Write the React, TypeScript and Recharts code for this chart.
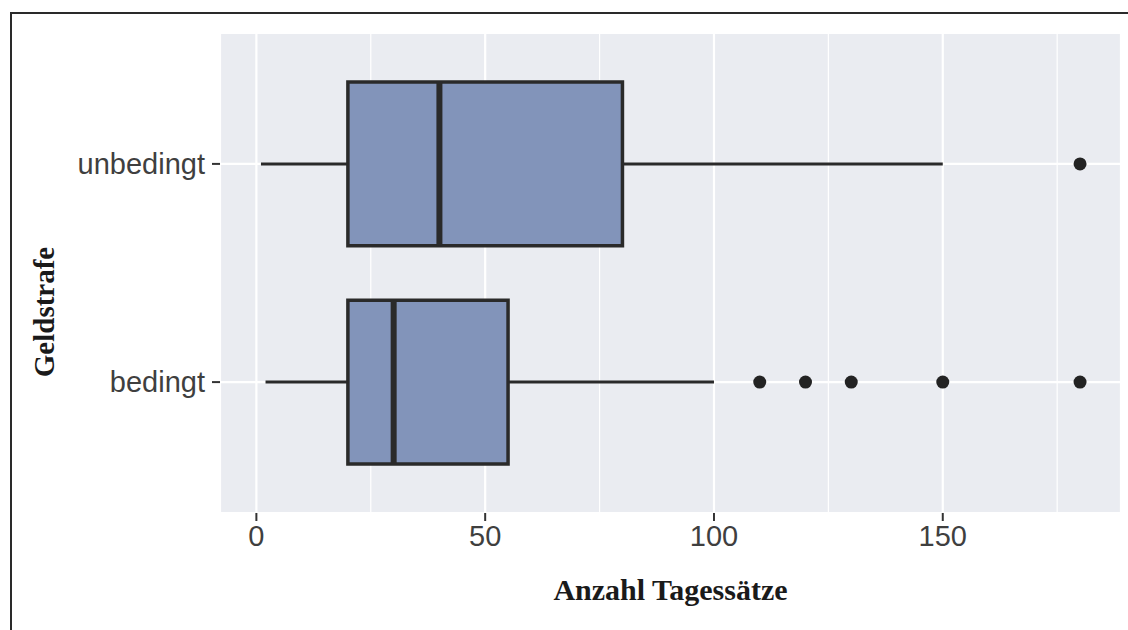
import React from 'react';
import {
  ComposedChart,
  XAxis,
  YAxis,
  CartesianGrid,
  ReferenceArea,
  ReferenceLine,
  Scatter,
  Label,
} from 'recharts';

// ---- data ----
const categories = ['bedingt', 'unbedingt'];
const categoryPos = [1, 2];
const whiskerLow = [2, 1];
const q1 = [20, 20];
const median = [30, 40];
const q3 = [55, 80];
const whiskerHigh = [100, 150];
const outliersBedingt = [110, 120, 130, 150, 180];
const outliersUnbedingt = [180];
const xTicks = [0, 50, 100, 150];
const xMinorTicks = [25, 75, 125, 175];
const yTicks = [1, 2];

const outlierData = [
  ...outliersBedingt.map((v) => ({ x: v, y: categoryPos[0] })),
  ...outliersUnbedingt.map((v) => ({ x: v, y: categoryPos[1] })),
];

const allValues = [...whiskerLow, ...whiskerHigh, ...outliersBedingt, ...outliersUnbedingt];
const dataMin = Math.min(...allValues);
const dataMax = Math.max(...allValues);
const pad = (dataMax - dataMin) * 0.05;
const xDomain: [number, number] = [dataMin - pad, dataMax + pad];
const yDomain: [number, number] = [0.4, 2.6];
const HALF = 0.375;

const BOX_FILL = '#8294ba';
const DARK = '#2a2a2a';
const PANEL = '#eaecf1';

const tickStyle = {
  fill: '#3f3f3f',
  fontSize: 29,
  fontFamily: '"Liberation Sans", Arial, sans-serif',
};

const XTitle = (props: any) => {
  const vb = props.viewBox || {};
  return (
    <text
      x={vb.x + vb.width / 2}
      y={vb.y + 87}
      textAnchor="middle"
      fill="#1a1a1a"
      fontSize={30}
      fontWeight="bold"
      fontFamily='"Liberation Serif", "Times New Roman", serif'
    >
      Anzahl Tagessätze
    </text>
  );
};

const YTitle = (props: any) => {
  const vb = props.viewBox || {};
  const cx = vb.x + 54;
  const cy = vb.y + vb.height / 2 + 39;
  return (
    <text
      x={cx}
      y={cy}
      transform={`rotate(-90, ${cx}, ${cy})`}
      textAnchor="middle"
      fill="#1a1a1a"
      fontSize={29}
      fontWeight="bold"
      fontFamily='"Liberation Serif", "Times New Roman", serif'
    >
      Geldstrafe
    </text>
  );
};

const Dot = (props: any) => {
  const { cx, cy } = props;
  if (cx == null || cy == null) return null;
  return <circle cx={cx} cy={cy} r={6.5} fill="#232323" />;
};

export default function App() {
  return (
    <div
      style={{
        position: 'absolute',
        left: 0,
        top: 0,
        width: 1128,
        height: 630,
        background: '#ffffff',
        overflow: 'hidden',
      }}
    >
      <div
        style={{
          position: 'absolute',
          left: 10,
          top: 12,
          width: 1118,
          height: 618,
          borderLeft: '2px solid #2a2a2a',
          borderTop: '2px solid #2a2a2a',
          boxSizing: 'border-box',
        }}
      />
      <div style={{ position: 'absolute', left: 0, top: 0 }}>
        <ComposedChart
          width={1128}
          height={630}
          margin={{ top: 33, right: 7, bottom: 0, left: 0 }}
        >
          <XAxis
            xAxisId="minor"
            type="number"
            dataKey="x"
            domain={xDomain}
            ticks={xMinorTicks}
            allowDataOverflow
            hide
          />
          <CartesianGrid
            xAxisId="minor"
            horizontal={false}
            fill={PANEL}
            fillOpacity={1}
            stroke="#ffffff"
            strokeWidth={1.2}
          />
          <CartesianGrid stroke="#ffffff" strokeWidth={2.2} />
          <XAxis
            type="number"
            dataKey="x"
            domain={xDomain}
            ticks={xTicks}
            interval={0}
            allowDataOverflow
            axisLine={false}
            tickLine={{ stroke: '#333333', strokeWidth: 2 }}
            tickSize={8}
            tickMargin={4}
            height={117}
            tick={tickStyle}
          >
            <Label content={XTitle} />
          </XAxis>
          <YAxis
            type="number"
            dataKey="y"
            domain={yDomain}
            ticks={yTicks}
            interval={0}
            allowDataOverflow
            tickFormatter={(v: number) => categories[categoryPos.indexOf(v)]}
            axisLine={false}
            tickLine={{ stroke: '#333333', strokeWidth: 2 }}
            tickSize={8}
            tickMargin={7}
            width={220}
            tick={tickStyle}
          >
            <Label content={YTitle} />
          </YAxis>

          {categories.map((c, i) => (
            <ReferenceLine
              key={`wl-${c}`}
              segment={[
                { x: whiskerLow[i], y: categoryPos[i] },
                { x: q1[i], y: categoryPos[i] },
              ]}
              stroke={DARK}
              strokeWidth={3}
            />
          ))}
          {categories.map((c, i) => (
            <ReferenceLine
              key={`wh-${c}`}
              segment={[
                { x: q3[i], y: categoryPos[i] },
                { x: whiskerHigh[i], y: categoryPos[i] },
              ]}
              stroke={DARK}
              strokeWidth={3}
            />
          ))}
          {categories.map((c, i) => (
            <ReferenceArea
              key={`box-${c}`}
              x1={q1[i]}
              x2={q3[i]}
              y1={categoryPos[i] - HALF}
              y2={categoryPos[i] + HALF}
              fill={BOX_FILL}
              fillOpacity={1}
              stroke={DARK}
              strokeWidth={3.5}
            />
          ))}
          {categories.map((c, i) => (
            <ReferenceLine
              key={`med-${c}`}
              segment={[
                { x: median[i], y: categoryPos[i] - HALF },
                { x: median[i], y: categoryPos[i] + HALF },
              ]}
              stroke={DARK}
              strokeWidth={6}
            />
          ))}
          <Scatter
            data={outlierData}
            dataKey="x"
            shape={Dot}
            isAnimationActive={false}
          />
        </ComposedChart>
      </div>
    </div>
  );
}
